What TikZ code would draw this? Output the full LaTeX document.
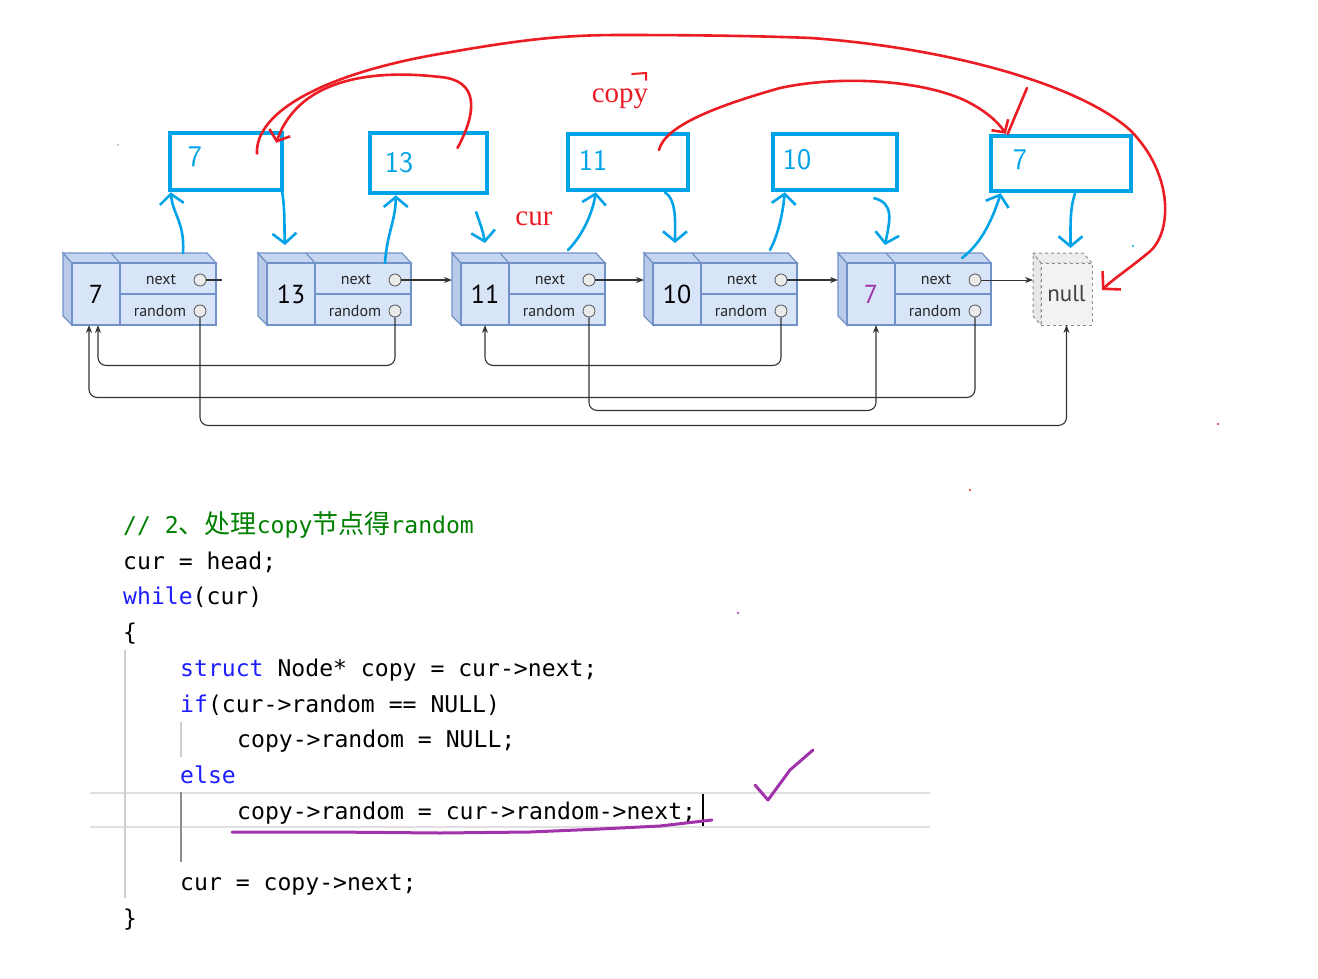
\documentclass[tikz,border=0pt]{standalone}
\usepackage{fontspec}
\usetikzlibrary{arrows.meta,positioning}
\newfontfamily\codefont{DejaVu Sans Mono}
\newfontfamily\cjkfont{Noto Sans CJK SC}
\newfontfamily\listfont{PT Sans}
\newfontfamily\inkfont{Liberation Serif}
\definecolor{frontblue}{RGB}{216,229,249}
\definecolor{topblue}{RGB}{199,214,240}
\definecolor{sideblue}{RGB}{186,203,233}
\definecolor{edgeblue}{RGB}{112,146,200}
\definecolor{penblue}{RGB}{0,162,232}
\definecolor{penred}{RGB}{236,28,36}
\definecolor{penpurple}{RGB}{160,50,170}
\definecolor{kwblue}{RGB}{30,30,255}
\definecolor{cmtgreen}{RGB}{0,128,0}
\definecolor{guide}{RGB}{205,205,205}

\tikzset{
  valcell/.style={draw=edgeblue, fill=frontblue, line width=1.2pt, outer sep=0pt, minimum width=48pt, minimum height=62pt, inner sep=0pt, font=\listfont\fontsize{26}{26}\selectfont},
  ptrcell/.style={draw=edgeblue, fill=frontblue, line width=1.2pt, outer sep=0pt, minimum width=96pt, minimum height=31pt, inner sep=0pt},
  ptrtext/.style={inner sep=0pt, text=black!85, font=\listfont\fontsize{16}{16}\selectfont},
  hole/.style={circle, draw=black!60, fill=black!8, line width=0.9pt, minimum size=12pt, inner sep=0pt},
  nullbox/.style={draw=black!45, dashed, fill=black!5, line width=1pt, outer sep=0pt, minimum width=51pt, minimum height=62pt, inner sep=0pt, text=black!75, font=\listfont\fontsize{23}{23}\selectfont},
  link/.style={draw=black!80, line width=1.1pt, -{Stealth[length=8pt,width=6pt]}},
  rnd/.style={link, rounded corners=8pt},
  copybox/.style={draw=penblue, line width=4.5pt, inner sep=0pt},
  inkblue/.style={draw=penblue, line width=2.6pt, line cap=round, -{Straight Barb[length=10pt,width=24pt]}},
  inkred/.style={draw=penred, line width=2.6pt, line cap=round},
  hand/.style={inner sep=0pt, text=penblue, font=\sffamily\fontsize{30}{30}\selectfont},
  inktext/.style={inner sep=0pt, text=penred, font=\inkfont\fontsize{29}{29}\selectfont},
  code/.style={anchor=base west, inner sep=0pt, font=\codefont\fontsize{23.1}{28}\selectfont},
}

\begin{document}
\begin{tikzpicture}[x=1pt,y=-1pt]
  \useasboundingbox[fill=white] (0,0) rectangle (1318,978);

  % list nodes
  \foreach \i/\L/\v/\c in {1/63/7/black, 2/258/13/black, 3/452/11/black, 4/644/10/black, 5/838/7/penpurple}{
    \filldraw[fill=sideblue, draw=edgeblue, line width=1.2pt] (\L,253) -- (\L+9,263) -- (\L+9,325) -- (\L,316) -- cycle;
    \filldraw[fill=topblue, draw=edgeblue, line width=1.2pt] (\L,253) -- (\L+144,253) -- (\L+153,263) -- (\L+9,263) -- cycle;
    \draw[edgeblue, line width=1.2pt] (\L+57,263) -- (\L+48,253);
    \node[valcell, text=\c] (v\i) at (\L+33,294) {\v};
    \node[ptrcell, anchor=north west] (n\i) at (v\i.north east) {};
    \node[ptrcell, anchor=north west] (r\i) at (n\i.south west) {};
    \node[ptrtext] (nt\i) at (\L+98,280) {next};
    \node[ptrtext] (rt\i) at (\L+97,311) {random};
    \node[hole] (nc\i) at (\L+137,280) {};
    \node[hole] (rc\i) at (\L+137,311) {};
  }

  % null
  \filldraw[fill=black!9, draw=black!45, dashed, line width=1pt] (1033,253) -- (1041,263) -- (1041,325) -- (1033,316) -- cycle;
  \filldraw[fill=black!7, draw=black!45, dashed, line width=1pt] (1033,253) -- (1083,253) -- (1092,263) -- (1041,263) -- cycle;
  \node[nullbox] (nl) at (1066.5,294) {null};

  % next pointers
  \draw[draw=black!80, line width=1.1pt] (nc1.east) -- ++(16,0);
  \foreach \i/\j in {2/3,3/4,4/5}
    \draw[link] (nc\i.east) -- ([xshift=-9pt]v\j.west |- nc\i.east);
  \draw[link, line width=0.8pt] (nc5.east) -- ([xshift=-8pt]nl.west |- nc5.east);

  % random pointers
  \draw[rnd] (rc2.south) -- ++(0,48) -| ([xshift=2pt]v1.south);
  \draw[rnd] (rc5.south) -- ++(0,80) -| ([xshift=-7pt]v1.south);
  \draw[rnd] (rc3.south) -- ++(0,93) -| ([xshift=5pt]v5.south);
  \draw[rnd] (rc4.south) -- ++(0,48) -| (v3.south);
  \draw[rnd] (rc1.south) -- ++(0,108) -| (nl.south);

  % copied nodes
  \node[copybox, minimum width=112pt, minimum height=57pt] (c1) at (226,161.5) {};
  \node[copybox, minimum width=117pt, minimum height=60pt] (c2) at (428.5,163) {};
  \node[copybox, minimum width=120pt, minimum height=56pt] (c3) at (628,162) {};
  \node[copybox, minimum width=124pt, minimum height=56pt] (c4) at (835,162) {};
  \node[copybox, minimum width=140pt, minimum height=55pt] (c5) at (1061,163.5) {};
  \node[hand] (c1t) at (195,157) {7};
  \node[hand] (c2t) at (399,163) {13};
  \node[hand] (c3t) at (593,160) {11};
  \node[hand] (c4t) at (797,160) {10};
  \node[hand] (c5t) at (1020,160) {7};

  % blue pen
  \draw[inkblue] ([xshift=15pt,yshift=10pt]n1.north) .. controls +(2,-30) and +(2,22) .. ([xshift=3pt]c1.south west);
  \draw[inkblue] ([xshift=-2pt]c1.south east) .. controls +(3,20) and +(-1,-20) .. ([xshift=-6pt,yshift=18pt]v2.north);
  \draw[inkblue] ([xshift=22pt]n2.north) .. controls +(2,-30) and +(0,25) .. ([xshift=28pt]c2.south west);
  \draw[inkblue] ([xshift=-13pt,yshift=-17pt]c2.south east) .. controls +(4,12) and +(-2,-12) .. ([yshift=20pt]v3.north);
  \draw[inkblue] ([xshift=11pt,yshift=13pt]n3.north) .. controls +(15,-15) and +(-3,20) .. ([xshift=30pt]c3.south west);
  \draw[inkblue] ([xshift=37pt]c3.south) .. controls +(12,8) and +(0,-20) .. ([xshift=-2pt,yshift=20pt]v4.north);
  \draw[inkblue] ([xshift=21pt,yshift=13pt]n4.north) .. controls +(8,-15) and +(-2,22) .. ([xshift=14pt]c4.south west);
  \draw[inkblue] ([xshift=-25pt,yshift=-6pt]c4.south east) .. controls +(20,5) and +(5,-25) .. ([xshift=14pt,yshift=18pt]v5.north);
  \draw[inkblue] ([xshift=19pt,yshift=5pt]n5.north) .. controls +(20,-15) and +(-8,25) .. ([xshift=12pt]c5.south west);
  \draw[inkblue] ([xshift=14pt]c5.south) .. controls +(-5,15) and +(0,-25) .. ([xshift=4pt,yshift=15pt]nl.north);

  % red pen
  \coordinate (r1s) at ([xshift=29pt,yshift=15pt]c2.center);
  \coordinate (r2s) at ([xshift=31pt,yshift=8pt]c1.center);
  \coordinate (r3s) at ([xshift=31pt,yshift=12pt]c3.center);
  \coordinate (r3tick) at (1027,88);
  \draw[inkred, -{Straight Barb[length=9pt,width=22pt]}] (r1s) .. controls (478,110) and (478,80) .. (440,77) .. controls (380,70) and (300,75) .. ([xshift=-8pt,yshift=-12pt]c1.north east);
  \draw[inkred, -{Straight Barb[length=12pt,width=26pt]}] (r2s) .. controls (255,110) and (330,72) .. (445,53) .. controls (520,40) and (560,35) .. (620,35) .. controls (700,35) and (760,36) .. (811,38) .. controls (950,48) and (1080,85) .. (1130,130) .. controls (1175,175) and (1172,235) .. (1148,253) .. controls (1130,268) and (1112,280) .. ([xshift=10pt,yshift=4pt]nl.east);
  \draw[inkred, -{Straight Barb[length=9pt,width=20pt]}] (r3s) .. controls (665,125) and (720,105) .. (780,88) .. controls (840,75) and (920,80) .. (964,100) .. controls (985,110) and (998,122) .. ([xshift=17pt]c5.north west);
  \draw[inkred] (r3tick) -- ([xshift=19pt]c5.north west);
  \draw[inkred, line width=2pt] (632,74) -- (646,73) -- (646,80);
  \node[inktext] (copylbl) at (620,99) {copy};
  \node[inktext] (curlbl) at (534,219) {cur};

  % stray dots
  \fill[black!40] (118,145) circle (0.8);
  \fill[penblue] (1133,246) circle (1.2);
  \fill[penred] (1218,424) circle (1.2);
  \fill[penred] (970,490) circle (1.2);
  \fill[penpurple] (738,613) circle (1.2);

  % code
  \draw[black!12, line width=2pt] (90,793) -- (930,793);
  \draw[black!12, line width=2pt] (90,827) -- (930,827);
  \draw[guide, line width=1.5pt] (125,650) -- (125,898);
  \draw[guide, line width=1.5pt] (181,722) -- (181,757);
  \draw[black!45, line width=1.5pt] (181,792) -- (181,862);
  \node[code, text=cmtgreen] (l1) at (123,533) {// 2{\cjkfont\fontsize{26}{28}\selectfont 、处理}copy{\cjkfont\fontsize{26}{28}\selectfont 节点得}random};
  \node[code] (l2) at (123,569) {cur = head;};
  \node[code] (l3) at (123,604) {{\color{kwblue}while}(cur)};
  \node[code] (l4) at (123,640) {\{};
  \node[code] (l5) at (180,676) {{\color{kwblue}struct} Node* copy = cur->next;};
  \node[code] (l6) at (180,712) {{\color{kwblue}if}(cur->random == NULL)};
  \node[code] (l7) at (237,747) {copy->random = NULL;};
  \node[code] (l8) at (180,783) {{\color{kwblue}else}};
  \node[code] (l9) at (237,819) {copy->random = cur->random->next;};
  \node[code] (l10) at (180,890) {cur = copy->next;};
  \node[code] (l11) at (123,926) {\}};
  \draw[black, line width=2pt] (703,794) -- (703,826);

  % purple pen
  \draw[penpurple, line width=3pt, line cap=round] (232,832) -- (330,832) -- (440,833) -- (530,832) -- (600,829) -- (660,826) -- (712,820);
  \draw[penpurple, line width=3pt, line cap=round, line join=round] (755,785) -- (768,800) -- (790,770) -- (813,750);
\end{tikzpicture}
\end{document}
